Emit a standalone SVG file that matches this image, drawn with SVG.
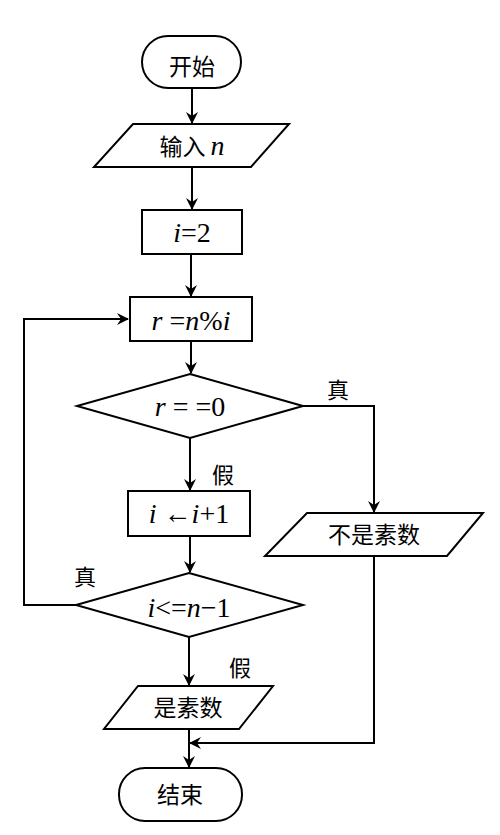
<svg xmlns="http://www.w3.org/2000/svg" width="500" height="835" viewBox="0 0 500 835">
<defs>
<style>
.s{fill:#fff;stroke:#000;stroke-width:2}
.c{fill:none;stroke:#000;stroke-width:2}
.zh{font-family:"Noto Sans CJK SC","Noto Sans CJK JP",sans-serif;font-size:23px;fill:#000;text-anchor:middle}
.m{font-family:"Liberation Serif","DejaVu Serif",serif;font-size:28px;fill:#000;text-anchor:middle}
.i{font-style:italic}
.lb{font-family:"Noto Sans CJK SC","Noto Sans CJK JP",sans-serif;font-size:22px;fill:#000}
</style>
<marker id="ar" markerWidth="12" markerHeight="12" refX="11" refY="6" orient="auto" markerUnits="userSpaceOnUse">
<path d="M0,0 L12,6 L0,12 L4,6 Z" fill="#000"/>
</marker>
</defs>
<rect width="500" height="835" fill="#fff"/>
<g id="connectors">
<line class="c" x1="192" y1="88" x2="192" y2="123" marker-end="url(#ar)"/>
<line class="c" x1="192" y1="167" x2="192" y2="209" marker-end="url(#ar)"/>
<line class="c" x1="191" y1="254" x2="191" y2="296" marker-end="url(#ar)"/>
<line class="c" x1="191" y1="341" x2="191" y2="373" marker-end="url(#ar)"/>
<line class="c" x1="190" y1="438" x2="190" y2="490" marker-end="url(#ar)"/>
<polyline class="c" points="303,406 374,406 374,512" marker-end="url(#ar)"/>
<line class="c" x1="190" y1="536" x2="190" y2="572" marker-end="url(#ar)"/>
<polyline class="c" points="76,605 24,605 24,319 128,319" marker-end="url(#ar)"/>
<line class="c" x1="189" y1="637" x2="189" y2="685" marker-end="url(#ar)"/>
<line class="c" x1="189" y1="729" x2="189" y2="767" marker-end="url(#ar)"/>
<polyline class="c" points="374,556 374,743 190,743" marker-end="url(#ar)"/>
<text class="lb" x="327" y="398">真</text>
<text class="lb" x="212" y="483">假</text>
<text class="lb" x="74" y="585">真</text>
<text class="lb" x="229" y="676">假</text>
</g>
<g id="start">
<rect class="s" x="142" y="36" width="99" height="52" rx="26" ry="26"/>
<text class="zh" x="192" y="75">开始</text>
</g>
<g id="input">
<polygon class="s" points="133,124 289,124 251,167 94,167"/>
<text class="zh" x="192" y="155">输入 <tspan font-family="Liberation Serif, DejaVu Serif, serif" font-style="italic" font-size="28">n</tspan></text>
</g>
<g id="init">
<rect class="s" x="142" y="210" width="100" height="44"/>
<text class="m" x="192" y="242" font-family="Liberation Serif, DejaVu Serif, serif"><tspan class="i">i</tspan>=2</text>
</g>
<g id="mod">
<rect class="s" x="130" y="297" width="122" height="44"/>
<text class="m" x="191" y="330" font-family="Liberation Serif, DejaVu Serif, serif"><tspan class="i">r</tspan> =<tspan class="i">n</tspan>%<tspan class="i">i</tspan></text>
</g>
<g id="cond1">
<polygon class="s" points="190,374 303,406 190,438 77,406"/>
<text class="m" x="190" y="416" font-family="Liberation Serif, DejaVu Serif, serif"><tspan class="i">r</tspan> = =0</text>
</g>
<g id="inc">
<rect class="s" x="128" y="491" width="122" height="45"/>
<text class="m" x="189" y="523" font-family="Liberation Serif, DejaVu Serif, serif"><tspan class="i">i</tspan> ←<tspan class="i">i</tspan>+1</text>
</g>
<g id="notprime">
<polygon class="s" points="307,513 483,513 447,556 265,556"/>
<text class="zh" x="374" y="543">不是素数</text>
</g>
<g id="cond2">
<polygon class="s" points="189,573 303,605 189,637 76,605"/>
<text class="m" x="189" y="617" font-family="Liberation Serif, DejaVu Serif, serif"><tspan class="i">i</tspan>&lt;=<tspan class="i">n</tspan>−1</text>
</g>
<g id="prime">
<polygon class="s" points="138,686 273,686 239,729 104,729"/>
<text class="zh" x="188" y="716">是素数</text>
</g>
<g id="end">
<rect class="s" x="119" y="768" width="123" height="53" rx="26" ry="26"/>
<text class="zh" x="180" y="803">结束</text>
</g>
</svg>
